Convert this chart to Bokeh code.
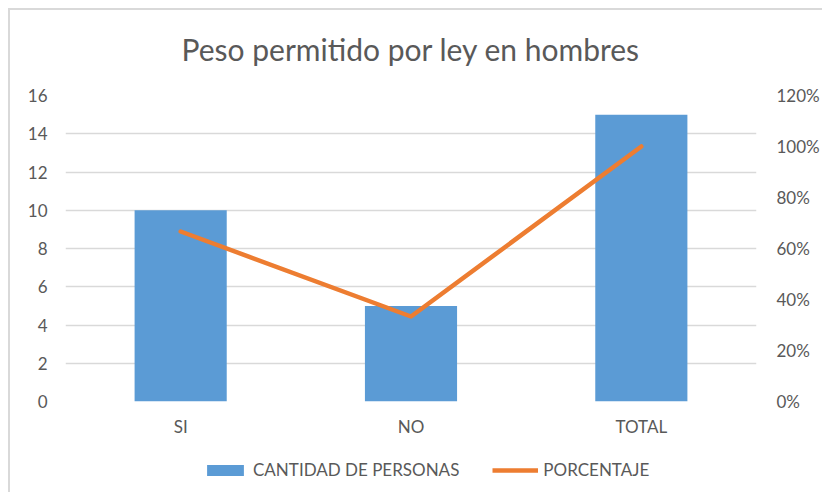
from bokeh.plotting import figure
from bokeh.layouts import column
from bokeh.models import (Range1d, LinearAxis, FactorRange, Legend, LegendItem,
                          NumeralTickFormatter, FixedTicker)
from bokeh.embed import file_html
from bokeh.resources import INLINE

categories = ["SI", "NO", "TOTAL"]
cantidad = [10, 5, 15]
porcentaje = [0.6667, 0.3333, 1.0]
left_ticks = [0, 2, 4, 6, 8, 10, 12, 14, 16]
right_ticks = [0, 0.2, 0.4, 0.6, 0.8, 1.0, 1.2]
series_names = ["CANTIDAD DE PERSONAS", "PORCENTAJE"]

TXT = "#595959"
GRID = "#D9D9D9"
FONT = "Lato"
BLUE = "#5B9BD5"
ORANGE = "#ED7D31"

p = figure(x_range=FactorRange(*categories, range_padding=0),
           y_range=Range1d(0, 16),
           frame_width=691, frame_height=306,
           min_border_left=65, min_border_right=66, min_border_top=95, min_border_bottom=45,
           output_backend="svg", toolbar_location=None,
           title="Peso permitido por ley en hombres")
p.border_fill_color = None
p.extra_y_ranges = {"pct": Range1d(0, 1.2)}

p.title.align = "center"
p.title.vertical_align = "middle"
p.title.text_font = FONT
p.title.text_font_size = "30px"
p.title.text_font_style = "normal"
p.title.text_color = TXT
p.title.offset = 14
p.title.standoff = 56

p.outline_line_color = None
p.xgrid.grid_line_color = None
p.ygrid.grid_line_color = GRID
p.ygrid.grid_line_width = 1.3
p.ygrid.ticker = FixedTicker(ticks=left_ticks)

p.vbar(x=categories, top=cantidad, width=0.4, color=BLUE, line_color=None)
p.line(x=categories, y=porcentaje, y_range_name="pct", color=ORANGE,
       line_width=4.5, line_join="round", line_cap="round")

p.yaxis.ticker = FixedTicker(ticks=left_ticks)
right = LinearAxis(y_range_name="pct", ticker=FixedTicker(ticks=right_ticks),
                   formatter=NumeralTickFormatter(format="0%"))
p.add_layout(right, "right")

for ax in [p.yaxis[0], right, p.xaxis[0]]:
    ax.axis_line_color = None
    ax.major_tick_line_color = None
    ax.minor_tick_line_color = None
    ax.major_tick_out = 0
    ax.major_label_text_font = FONT
    ax.major_label_text_font_size = "17px"
    ax.major_label_text_color = TXT
p.yaxis[0].major_label_standoff = 18
right.major_label_standoff = 20
p.xaxis[0].major_label_standoff = 14

# legend strip below the chart (same series, drawn out of view; only the legend shows)
lg = figure(x_range=FactorRange(*categories, range_padding=0), y_range=Range1d(100, 101),
            width=822, height=46, min_border=0,
            x_axis_location=None, y_axis_location=None,
            output_backend="svg", toolbar_location=None)
lg.border_fill_color = None
lg.background_fill_color = None
lg.outline_line_color = None
lg.grid.visible = False
lb = lg.vbar(x=categories, top=cantidad, width=0.4, color=BLUE, line_color=None)
ll = lg.line(x=categories, y=porcentaje, color=ORANGE, line_width=4.5)

legend = Legend(items=[LegendItem(label=series_names[0], renderers=[lb]),
                       LegendItem(label=series_names[1], renderers=[ll])],
                orientation="horizontal", location=(137, 12),
                padding=0, margin=0, spacing=33, label_standoff=5,
                glyph_width=46, glyph_height=14,
                border_line_color=None, background_fill_alpha=0,
                label_text_font=FONT, label_text_font_size="17px", label_text_color=TXT)
lg.add_layout(legend, "center")

layout = column(p, lg, spacing=0)
layout.styles = {"background-image": "linear-gradient(#D9D9D9, #D9D9D9), linear-gradient(#D9D9D9, #D9D9D9)",
                 "background-size": "100% 2px, 2px 100%",
                 "background-position": "8px 8px, 8px 8px",
                 "background-repeat": "no-repeat"}

open("out.html", "w").write(file_html(layout, INLINE))
